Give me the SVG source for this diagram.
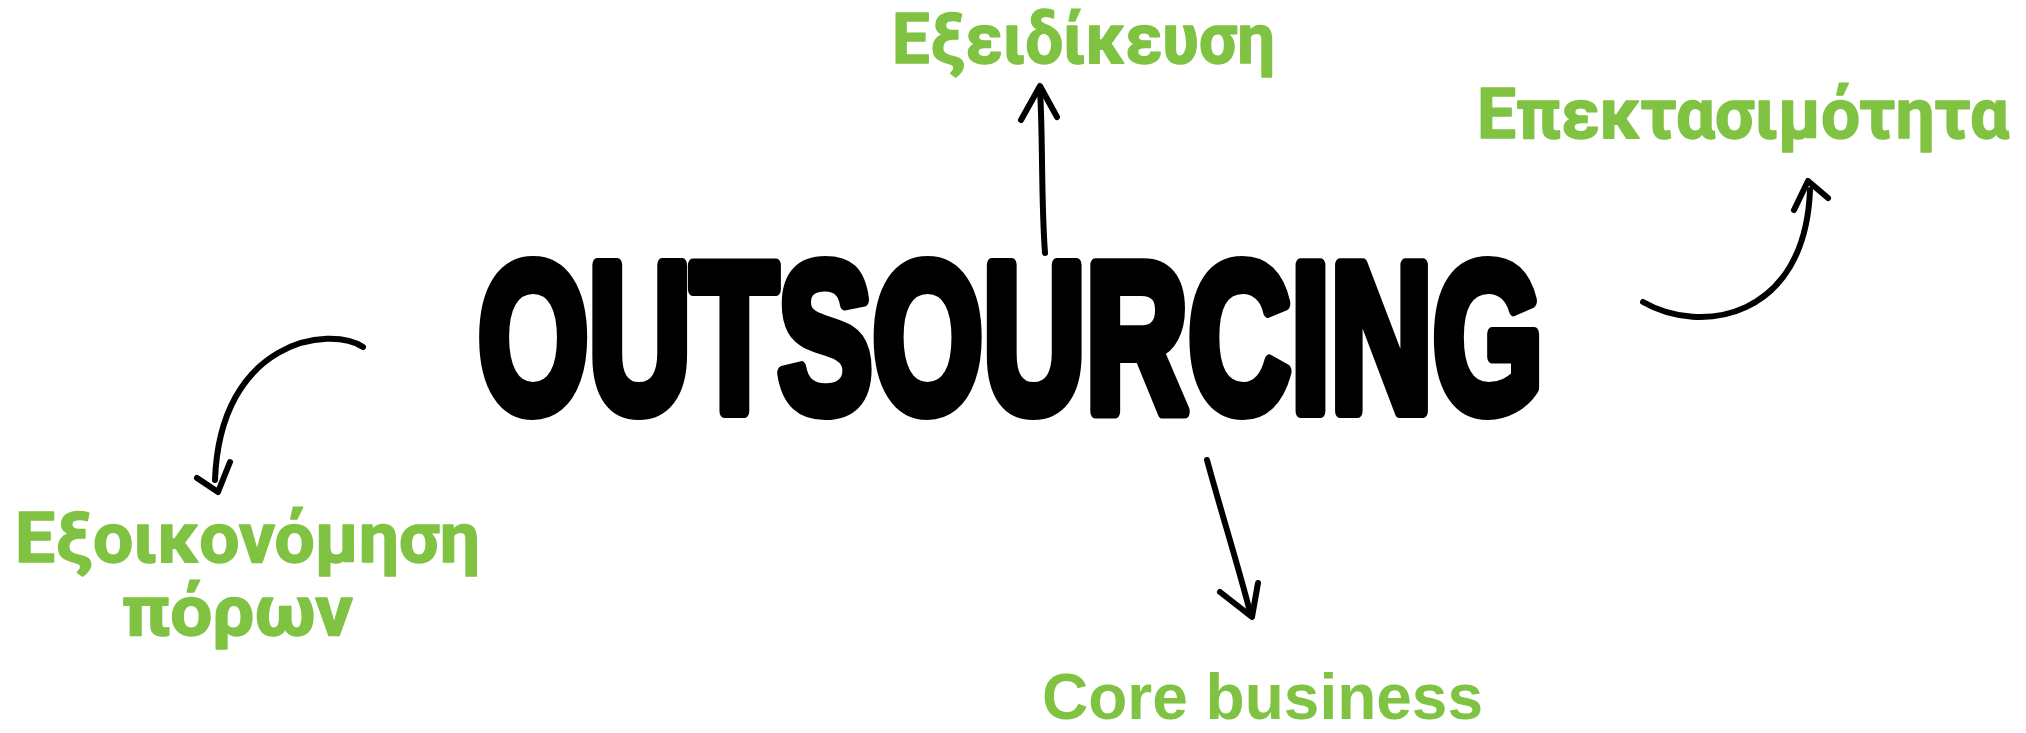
<svg xmlns="http://www.w3.org/2000/svg" width="2026" height="733" viewBox="0 0 2026 733">
<style>
.lbl{font-family:Roboto,"Open Sans","Liberation Sans",sans-serif;font-weight:bold;font-size:70px;fill:#80C242;stroke:#80C242;stroke-width:1.5;stroke-linejoin:round}
.core{font-family:"Liberation Sans",Arial,sans-serif;font-weight:bold;font-size:64px;fill:#80C242}
.brush{font-family:"Liberation Sans",Arial,sans-serif;font-weight:bold;font-size:212px;fill:#000;stroke:#000;stroke-width:14;stroke-linejoin:round}
.arr{fill:none;stroke:#000;stroke-width:6;stroke-linecap:round;stroke-linejoin:round}
</style>
<rect width="2026" height="733" fill="#fff"/>
<g id="connectors">
  <g id="arrow-up">
    <path class="arr" d="M1045,253 C1041,200 1043,140 1040,90"/>
    <path class="arr" d="M1021,120 L1040,86 L1057,117"/>
  </g>
  <g id="arrow-right">
    <path class="arr" d="M1643,302 C1700,335 1805,320 1810,190"/>
    <path class="arr" d="M1794,210 L1808,181 L1828,198"/>
  </g>
  <g id="arrow-left">
    <path class="arr" d="M363,347 C330,325 220,340 215,480"/>
    <path class="arr" d="M197,478 L218,492 L230,462"/>
  </g>
  <g id="arrow-down">
    <path class="arr" d="M1207,460 C1222,515 1238,565 1250,612"/>
    <path class="arr" d="M1220,592 L1252,617 L1258,583"/>
  </g>
</g>
<g id="node-outsourcing">
  <text class="brush" transform="translate(478,411) scale(0.67,1)" x="0" y="0">OUTSOURCING</text>
</g>
<g id="node-exeidikeusi">
  <text class="lbl" x="892" y="63" textLength="383" lengthAdjust="spacingAndGlyphs">Εξειδίκευση</text>
</g>
<g id="node-epektasimotita">
  <text class="lbl" x="1477" y="138" textLength="532" lengthAdjust="spacingAndGlyphs">Επεκτασιμότητα</text>
</g>
<g id="node-exoikonomisi">
  <text class="lbl"><tspan x="15" y="562" textLength="465" lengthAdjust="spacingAndGlyphs">Εξοικονόμηση</tspan><tspan x="122" y="635" textLength="231" lengthAdjust="spacingAndGlyphs">πόρων</tspan></text>
</g>
<g id="node-core">
  <text class="core" x="1042" y="719">Core business</text>
</g>
</svg>
